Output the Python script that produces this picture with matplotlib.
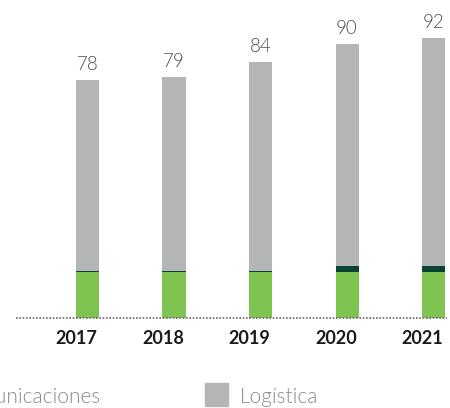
import matplotlib.pyplot as plt
from matplotlib import font_manager

years = ['2017', '2018', '2019', '2020', '2021']
totals = [78, 79, 84, 90, 92]
energia = [15, 15, 15, 15, 15]
otros = [0.4, 0.4, 0.4, 2, 2]
logistica = [t - e - o for t, e, o in zip(totals, energia, otros)]

c_green = '#7fc351'
c_dark = '#0b4333'
c_grey = '#b4b5b6'

plt.rcParams['font.family'] = ['Lato', 'DejaVu Sans']


def lato(style, size, weight):
    # pick the Lato file by its style name, fall back to the weight
    for f in font_manager.fontManager.ttflist:
        if f.fname.split('/')[-1] == 'Lato-%s.ttf' % style:
            return font_manager.FontProperties(fname=f.fname, size=size)
    return font_manager.FontProperties(family='Lato', weight=weight, size=size)


fp_val = lato('Light', 13.5, 'light')
fp_leg = lato('Light', 15, 'light')
fp_year = lato('Bold', 13, 'bold')

fig = plt.figure(figsize=(4.5, 4.08), dpi=100)
ax = fig.add_axes([16 / 450, 90 / 408, 431 / 450, 318 / 408])

x = list(range(len(years)))
w = 0.266
ax.bar(x, energia, w, color=c_green)
ax.bar(x, otros, w, bottom=energia, color=c_dark)
bottoms = [e + o for e, o in zip(energia, otros)]
ax.bar(x, logistica, w, bottom=bottoms, color=c_grey)

for xi, t in zip(x, totals):
    ax.annotate(str(t), (xi, t), xytext=(0, 5), textcoords='offset points',
                ha='center', va='bottom', color='#4d4d4d', fontproperties=fp_val)

ax.set_xlim(-0.8266, 4.156)
ax.set_ylim(0, 104.3)
ax.axhline(0, color='#666666', lw=1.2, ls=(0, (1, 1)), clip_on=False)

for s in ax.spines.values():
    s.set_visible(False)
ax.set_yticks([])
ax.set_xticks([])

# year labels sit a little left of each bar
for xi, y in zip(x, years):
    ax.annotate(y, (xi + w / 2, 0), xytext=(-1.5, -21), textcoords='offset pixels',
                ha='right', va='center', color='#1a1a1a', fontproperties=fp_year)

# legend row along the bottom
for xt, txt, ha in [(101, 'Telecomunicaciones', 'right'), (240, 'Logística', 'left')]:
    fig.text(xt / 450, 1 - 397 / 408, txt, ha=ha, va='center',
             color='#8a8a8a', fontproperties=fp_leg)
fig.patches.append(plt.Rectangle((205 / 450, 1 - 406 / 408), 23 / 450, 23 / 408,
                                 transform=fig.transFigure, color=c_grey))

fig.savefig('out.png', dpi=100)
